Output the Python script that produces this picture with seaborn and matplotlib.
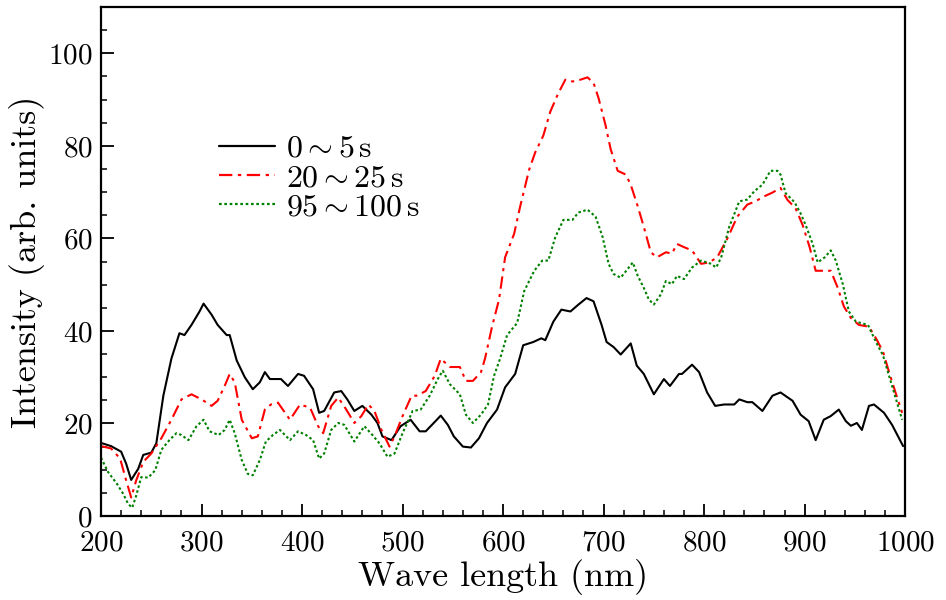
import numpy as np
import pandas as pd
import matplotlib
matplotlib.use('Agg')
import matplotlib.pyplot as plt
import seaborn as sns

# values
wl_black = [200, 210, 220, 225, 230, 237, 242, 250, 255, 262, 270, 278, 283, 290, 298, 302, 310, 316, 325, 328,
            335, 343, 351, 358, 363, 368, 379, 386, 396, 402, 411, 417, 422, 432, 439, 445, 452, 460, 469, 475,
            480, 489, 498, 508, 517, 523, 531, 538, 545, 551, 560, 568, 576, 584, 594, 602, 612, 620, 630, 638,
            642, 650, 658, 667, 675, 683, 690, 698, 703, 710, 717, 727, 733, 740, 750, 760, 766, 775, 778, 788,
            795, 803, 811, 820, 830, 835, 843, 848, 858, 868, 876, 888, 896, 904, 911, 919, 926, 934, 941, 946,
            952, 957, 964, 969, 979, 987, 998]
int_black = [15.8, 15.1, 13.9, 11.3, 7.8, 10.2, 13.2, 13.7, 15.7, 26, 34, 39.5, 39.1, 41.3, 44.2, 45.9, 43.5, 41.3, 39.1, 39.1,
             33.6, 30, 27.4, 28.9, 31.1, 29.6, 29.6, 28.1, 30.7, 30.3, 27.4, 22.3, 22.7, 26.7, 27, 25.2, 22.7, 23.8, 21.9, 20.1,
             17.2, 16.4, 19.4, 20.8, 18.3, 18.3, 20.1, 21.7, 19.7, 17.2, 15.0, 14.8, 16.8, 20.1, 23, 27.8, 30.7, 36.9, 37.6, 38.4,
             38, 42, 44.6, 44.2, 45.7, 47.1, 46.4, 41.3, 37.6, 36.5, 34.9, 37.3, 32.5, 30.7, 26.3, 29.6, 28.1, 30.7, 30.7, 32.7,
             31.1, 26.7, 23.8, 24.1, 24.1, 25.2, 24.6, 24.6, 22.7, 26, 26.7, 24.9, 21.9, 20.5, 16.4, 20.8, 21.6, 23, 20.5, 19.5,
             20.1, 18.6, 23.8, 24.1, 22.3, 19.7, 15.1]

wl_red = [200, 210, 219, 225, 230, 235, 242, 250, 260, 270, 280, 290, 300, 310, 316, 323, 328, 333, 340, 350,
          356, 363, 369, 376, 388, 398, 408, 416, 421, 429, 436, 444, 452, 459, 466, 472, 479, 487, 492, 500,
          509, 514, 523, 532, 538, 547, 557, 563, 570, 578, 582, 589, 596, 602, 611, 617, 626, 632, 640, 647,
          655, 662, 669, 677, 684, 690, 695, 702, 707, 714, 722, 727, 734, 740, 747, 753, 762, 768, 773, 780,
          788, 797, 805, 813, 823, 833, 843, 851, 860, 868, 876, 883, 891, 898, 905, 911, 918, 926, 933, 939,
          946, 954, 964, 971, 978, 984, 991, 997]
int_red = [15.1, 14.6, 12.4, 7.7, 4.0, 7.7, 11.7, 13.5, 16.8, 20.8, 25.2, 26.3, 25.2, 23.8, 24.9, 28.1, 30.7, 28.9, 20.8, 16.8,
           17.2, 23, 24.1, 24.5, 20.8, 24.1, 23.4, 19.4, 17.9, 23.8, 25.6, 23, 20.1, 21.6, 24.1, 22.7, 18.6, 15.0, 17.2, 21.6,
           26, 26, 27, 30.3, 34, 32.2, 32.2, 29.2, 29.2, 31.1, 34, 40.9, 46.8, 55.9, 61, 66.9, 74.9, 78.6, 82.2, 87.4,
           91.4, 94.3, 93.9, 94.3, 94.8, 93.6, 90.3, 84.4, 79.3, 74.6, 73.8, 71.6, 66.9, 62.5, 57, 55.9, 57, 56.7, 58.8, 58.1,
           57.4, 54.5, 54.8, 55.9, 59.9, 64.7, 67.3, 68, 69.1, 69.9, 70.9, 68.3, 66.5, 62.9, 58.1, 53, 53, 53, 49.3, 45.3,
           42.8, 41.3, 40.9, 38.4, 35.5, 31.1, 26.3, 22.3]

wl_green = [200, 207, 216, 222, 227, 231, 235, 240, 247, 254, 260, 268, 275, 280, 287, 295, 302, 308, 317, 323,
            328, 333, 340, 346, 351, 358, 364, 371, 378, 388, 396, 404, 411, 417, 422, 429, 436, 442, 452, 462,
            470, 477, 485, 492, 500, 510, 518, 527, 535, 540, 547, 557, 563, 570, 578, 585, 591, 597, 604, 614,
            621, 631, 639, 645, 652, 660, 669, 675, 684, 692, 699, 705, 710, 717, 724, 729, 734, 740, 745, 750,
            757, 762, 768, 773, 780, 788, 797, 807, 812, 817, 825, 835, 843, 850, 858, 866, 873, 876, 881, 890,
            896, 901, 908, 913, 920, 926, 931, 938, 944, 951, 963, 971, 978, 984, 991, 997]
int_green = [12.6, 9.5, 6.9, 4.8, 2.6, 1.8, 4.4, 8.4, 8.3, 9.9, 14.3, 16.4, 17.9, 17.5, 16.4, 19.4, 20.8, 18.3, 17.5, 18.6,
             20.8, 17.9, 12.1, 9.1, 8.8, 12.1, 16.1, 17.5, 18.6, 16.4, 18.3, 17.5, 16.4, 12.4, 13.5, 18.6, 20.1, 19.7, 16.1, 19.4,
             17.5, 15.7, 12.8, 13.5, 17.9, 22.7, 23, 26, 29.6, 31.4, 28.5, 26.3, 21.9, 20.1, 21.9, 24.1, 30.3, 34, 39.1, 41.7,
             48.6, 53, 55.2, 55.2, 60.3, 64, 64, 65.6, 66.2, 64.7, 60.3, 54.5, 52.3, 51.5, 53.4, 54.8, 51.9, 49.3, 46.8, 45.7,
             47.9, 50.8, 50.1, 51.9, 51.2, 53.7, 55.2, 54.5, 53.7, 55.9, 62.5, 68, 68.4, 70.2, 71.6, 74.6, 74.6, 73.8, 69.8, 67.8,
             65.4, 62.9, 58.8, 54.8, 55.9, 57.4, 55.2, 50.1, 44.2, 42, 41.3, 37.6, 34.7, 30.3, 25.2, 20.8]

labels = [r'$0\sim5\,\mathrm{s}$', r'$20\sim25\,\mathrm{s}$', r'$95\sim100\,\mathrm{s}$']

sns.set_style('ticks', {'axes.edgecolor': 'black', 'text.color': 'black',
                        'xtick.color': 'black', 'ytick.color': 'black', 'axes.labelcolor': 'black'})
plt.rcParams['font.family'] = ['cmr10', 'DejaVu Serif']
plt.rcParams['mathtext.fontset'] = 'cm'
plt.rcParams['axes.formatter.use_mathtext'] = True

fig = plt.figure(figsize=(9.46, 6), dpi=100)
ax = fig.add_axes([0.1068, 0.14, 0.85, 0.8483])

sns.lineplot(x=wl_black, y=int_black, color='black', lw=1.5, label=labels[0], ax=ax)
sns.lineplot(x=wl_red, y=int_red, color='#ff0000', lw=1.5, label=labels[1], ax=ax)
sns.lineplot(x=wl_green, y=int_green, color='#008000', lw=1.5, label=labels[2], ax=ax)
ax.lines[1].set_dashes((6, 2.5, 1.5, 2.5))
ax.lines[2].set_dashes((1.2, 1.2))

ax.set_xlim(200, 1000)
ax.set_ylim(0, 110)
ax.set_xticks(np.arange(200, 1001, 100))
ax.set_xticks(np.arange(200, 1001, 20), minor=True)
ax.set_yticks(np.arange(0, 101, 20))
ax.set_yticks(np.arange(0, 111, 5), minor=True)
ax.tick_params(which='major', direction='in', length=9, width=1.3, labelsize=21, top=False, right=False,
               colors='black')
ax.tick_params(axis='x', which='major', pad=10)
ax.tick_params(axis='y', which='major', pad=6)
ax.tick_params(which='minor', direction='in', length=4.5, width=1.1, top=False, right=False, colors='black')
for sp in ax.spines.values():
    sp.set_linewidth(1.6)
    sp.set_color('black')
    sp.set_visible(True)

ax.set_xlabel('Wave length (nm)', fontsize=26, labelpad=2, color='black')
ax.set_ylabel('Intensity (arb. units)', fontsize=26, labelpad=2, color='black')

leg = ax.legend(loc='upper left', bbox_to_anchor=(0.115, 0.80), frameon=False, fontsize=23,
                handlelength=1.75, handletextpad=0.35, labelspacing=0.03, borderpad=0.3)
for t in leg.get_texts():
    t.set_color('black')
for h in leg.get_lines():
    h.set_linewidth(1.6)

fig.savefig('out.png', dpi=100)
